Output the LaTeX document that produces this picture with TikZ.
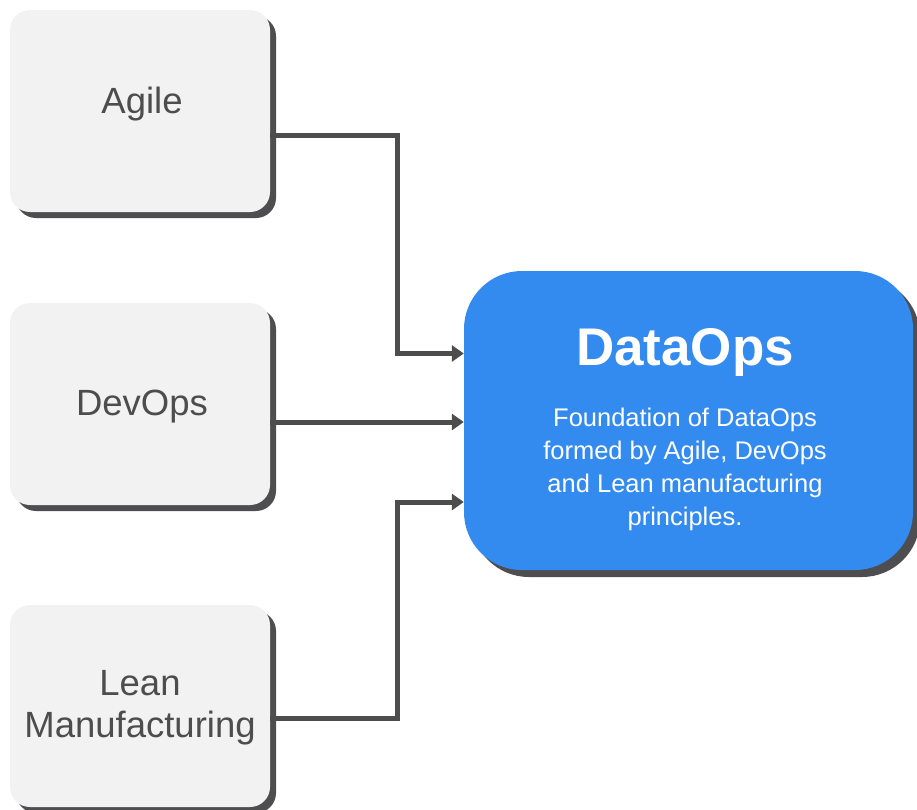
\documentclass[tikz,border=0pt]{standalone}
\usepackage{fontspec}
\setmainfont{Liberation Sans}
\usetikzlibrary{shadows,arrows.meta}
\definecolor{boxfill}{HTML}{F2F2F2}
\definecolor{shadowgray}{HTML}{4E4E50}
\definecolor{txtgray}{HTML}{4D4D4D}
\definecolor{opsblue}{HTML}{348BEF}
\definecolor{linegray}{HTML}{4D4D4D}
\begin{document}
\begin{tikzpicture}[x=1pt,y=-1pt,
  sidebox/.style={rectangle, rounded corners=20pt, fill=boxfill, minimum width=260pt, minimum height=202pt, inner sep=0pt,
    drop shadow={shadow xshift=6pt, shadow yshift=-6pt, fill=shadowgray, opacity=1}},
  mainbox/.style={rectangle, rounded corners=58pt, fill=opsblue, minimum width=449pt, minimum height=299pt, inner sep=0pt,
    drop shadow={shadow xshift=7pt, shadow yshift=-7pt, fill=shadowgray, opacity=1}},
  sidelabel/.style={text=txtgray, font=\fontsize{36.5}{42}\selectfont, align=center, inner sep=0pt},
  titlelabel/.style={text=white, font=\fontsize{53}{60}\bfseries\selectfont, inner sep=0pt},
  desclabel/.style={text=white, font=\fontsize{25.5}{33}\selectfont, align=center, inner sep=0pt},
  conn/.style={draw=linegray, line width=5pt, -{Triangle[length=12pt,width=16pt]}}
]
\useasboundingbox (0,0) rectangle (917,809);
\node[sidebox] (agile) at (140,111) {};
\node[sidebox] (devops) at (140,404) {};
\node[sidebox] (lean) at (140,706) {};
\node[mainbox] (data) at (688.5,420.5) {};

\node[sidelabel, anchor=base] (agileT) at (142,113) {Agile};
\node[sidelabel, anchor=base] (devopsT) at (142,415) {DevOps};
\node[sidelabel, anchor=base] (leanT) at (140,737) {Lean\\Manufacturing};

\node[titlelabel, anchor=base] (dataT) at (685,365) {DataOps};
\node[desclabel, anchor=base] (dataD) at (685,525) {Foundation of DataOps\\formed by Agile, DevOps\\and Lean manufacturing\\principles.};

\draw[conn] ([yshift=-24pt]agile.east) -- ++(127,0) |- ([yshift=67pt]data.west);
\draw[conn] ([yshift=-18pt]devops.east) -- ([yshift=-1.5pt]data.west);
\draw[conn] ([yshift=-12pt]lean.east) -- ++(127,0) |- ([yshift=-81.5pt]data.west);
\end{tikzpicture}
\end{document}
